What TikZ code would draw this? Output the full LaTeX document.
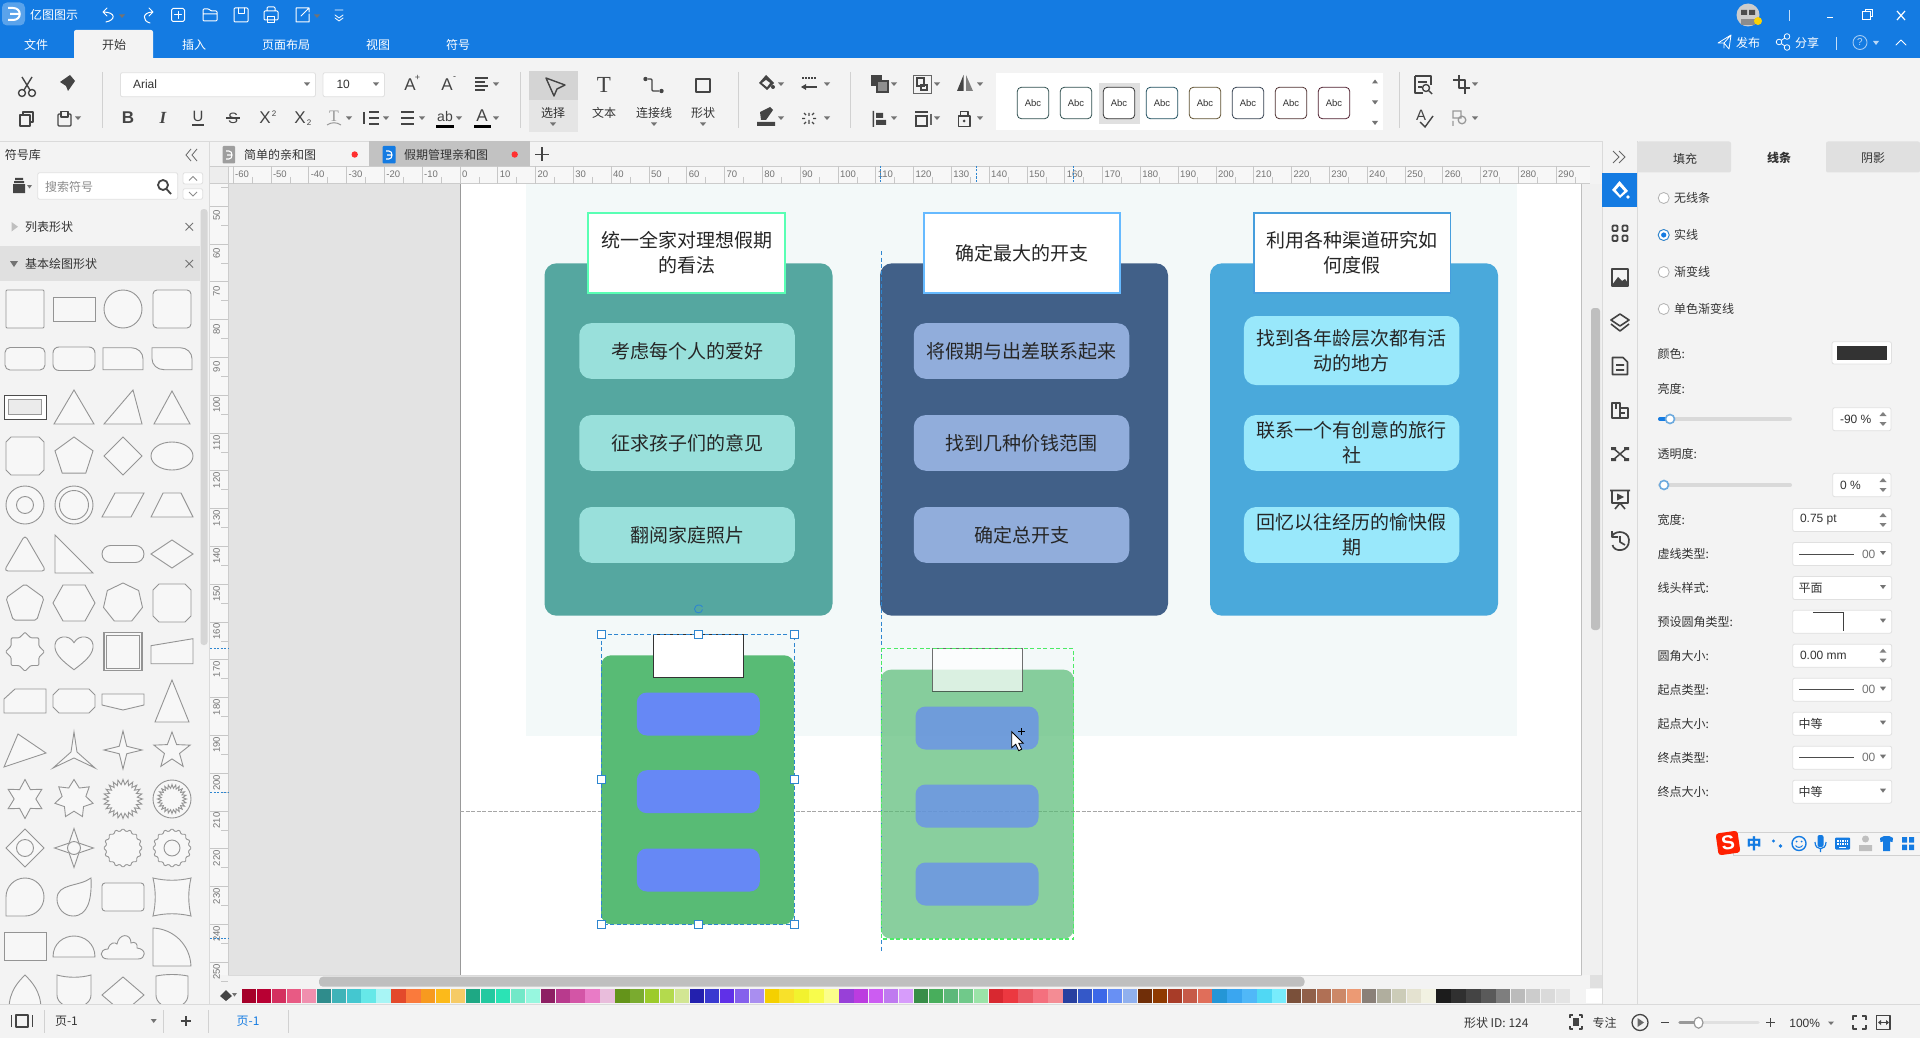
\documentclass[tikz,border=0pt]{standalone}
\usepackage{fontspec}
\usetikzlibrary{shapes.geometric}
\setmainfont{Noto Sans CJK SC}
\newfontfamily\latnfont{Liberation Sans}
\newfontfamily\serffont{Liberation Serif}
\definecolor{uiblue}{HTML}{147BE2}
\definecolor{panelgrey}{HTML}{F3F3F3}
\definecolor{uiline}{HTML}{DADADA}
\definecolor{uidark}{HTML}{444444}
\definecolor{uitext}{HTML}{333333}
\definecolor{pagetint}{HTML}{F3F9F9}
\definecolor{selblue}{HTML}{2E86D0}
\definecolor{ghostgreen}{HTML}{4CEB66}
\definecolor{cardteal}{HTML}{55A7A0}
\definecolor{itemteal}{HTML}{99E0DB}
\definecolor{cardnavy}{HTML}{416088}
\definecolor{itemnavy}{HTML}{91ADDB}
\definecolor{cardsky}{HTML}{4AA9DB}
\definecolor{itemsky}{HTML}{99E8FB}
\definecolor{cardgreen}{HTML}{58BB75}
\definecolor{itemblue}{HTML}{6688F5}
\tikzset{
  uilabel/.style={font=\fontsize{12}{14}\selectfont,text=uitext,inner sep=0pt,outer sep=0pt},
  latnlabel/.style={font=\latnfont\fontsize{12}{14}\selectfont,text=uitext,inner sep=0pt,outer sep=0pt},
  rulerlabel/.style={font=\latnfont\fontsize{9.5}{11}\selectfont,text=black!55,inner sep=0pt,outer sep=0pt},
  toollabel/.style={font=\latnfont\fontsize{17}{19}\selectfont,text=uidark,inner sep=0pt,outer sep=0pt},
  wicon/.style={draw=white,line width=1pt,line cap=round,line join=round},
  dicon/.style={draw=uidark,line width=1.4pt,line join=round},
  dropmark/.style={fill=black!55},
  sym/.style={draw=black!42,fill=white!97!black,line width=.9pt,inner sep=0pt,outer sep=0pt},
  fieldbox/.style={draw=black!12,fill=white,rounded corners=2pt,line width=.8pt},
  card/.style={rounded corners=12pt,inner sep=0pt,outer sep=0pt,minimum height=352.4pt,minimum width=288pt},
  headbox/.style={fill=white,line width=1.6pt,inner sep=0pt,outer sep=0pt,minimum height=79.7pt,minimum width=196.5pt,align=center,font=\fontsize{19}{25}\selectfont,text=black!85},
  itembox/.style={rounded corners=12pt,inner sep=0pt,outer sep=0pt,minimum height=55.7pt,minimum width=215.5pt,align=center,font=\fontsize{19}{25}\selectfont,text=black!85},
  minicard/.style={fill=cardgreen,rounded corners=10pt,inner sep=0pt,outer sep=0pt,minimum width=193pt,minimum height=269pt},
  minihead/.style={fill=white,draw=black!80,line width=.9pt,inner sep=0pt,outer sep=0pt,minimum width=90.4pt,minimum height=43pt},
  miniitem/.style={fill=itemblue,rounded corners=10pt,inner sep=0pt,outer sep=0pt,minimum width=123pt,minimum height=43pt},
  handlebox/.style={draw=selblue,fill=white,line width=.9pt,inner sep=0pt,outer sep=0pt,minimum size=8pt},
}
\begin{document}
\begin{tikzpicture}[x=1pt,y=-1pt]
\useasboundingbox (0,0) rectangle (1920,1038);
\fill[panelgrey] (0,0) rectangle (1920,1038);
% title bar
\fill[uiblue] (0,0) rectangle (1920,58);
\fill[panelgrey,rounded corners=2pt] (74,30) rectangle (153,60);
\node[fill=uiblue!70!white,rounded corners=5pt,minimum size=23pt,inner sep=0pt] (logo) at (13.5,14) {};
\draw[white,line width=2pt] (8,8) -- (13,8) .. controls (22,8) and (22,20) .. (13,20) -- (8,20) (10,14) -- (19,14);
\node[uilabel,text=white,anchor=west] (appname) at (30,14.5) {亿图图示};
\draw[wicon] (106,22) .. controls (116,20) and (116,12) .. (103,12) (107,8) -- (103,12) -- (107,16);
\draw[wicon] (150,23) .. controls (142,21) and (142,12) .. (153,12) (149,8) -- (153,12) -- (149,16);
\draw[wicon,rounded corners=1.5pt] (171.5,8.5) rectangle (184.5,21.5);
\draw[wicon] (178,11.5) -- (178,18.5) (174.5,15) -- (181.5,15);
\draw[wicon,rounded corners=1pt] (203,21) -- (203,9) -- (209,9) -- (211,11) -- (217,11) -- (217,21) -- cycle (203,14) -- (217,14);
\draw[wicon,rounded corners=1pt] (234,8) rectangle (248,22);
\draw[wicon] (238,8) -- (238,14) -- (244,14) -- (244,8);
\draw[wicon,rounded corners=1pt] (264,11) rectangle (278,20) (267,11) -- (267,7) -- (275,7) -- (275,11);
\draw[wicon] (267.5,16.5) rectangle (274.5,23);
\draw[wicon] (305,8) -- (296,8) -- (296,22) -- (309,22) -- (309,14) (301,16) -- (309,8) (305,8) -- (309,8) -- (309,12);
\draw[wicon,line width=.8pt] (335,10) -- (343,10) (335,15) -- (339,18) -- (343,15) (335,18) -- (339,21) -- (343,18);
\foreach \tabname/\tabx [count=\i] in {文件/36,插入/194,页面布局/286,视图/378,符号/458}
  \node[uilabel,text=white] (menu\i) at (\tabx,44.7) {\tabname};
\node[uilabel] (menuhome) at (114,44.7) {开始};
% top right of the title bar
\fill[black!20] (1748,15) circle (11.5);
\fill[black!70] (1741,10) rectangle (1747,15) (1749,10) rectangle (1755,15);
\fill[black!45] (1741,19) rectangle (1755,25);
\fill[yellow!70!orange] (1758,21) circle (4);
\draw[white!75!uiblue,line width=1pt] (1789,10) -- (1789,21);
\draw[white,line width=1.4pt] (1827,17.5) -- (1833,17.5);
\draw[white,line width=1pt] (1862.5,12) rectangle (1870,20) (1865,12) -- (1865,9.5) -- (1872,9.5) -- (1872,17) -- (1870,17);
\draw[white,line width=1.2pt] (1897,11) -- (1905,20) (1905,11) -- (1897,20);
\draw[wicon,line width=.8pt] (1718,43) -- (1731,35) -- (1729,49) -- (1724,43) -- (1718,43) (1724,43) -- (1724,48) (1724,43) -- (1731,35);
\node[uilabel,text=white] (publish) at (1748,42.5) {发布};
\draw[wicon,line width=.8pt] (1779,42) -- (1787,36.5) (1779,42) -- (1787,47.5);
\draw[wicon,line width=.8pt,fill=uiblue] (1779,42) circle (2.8) (1787,36.5) circle (2.8) (1787,47.5) circle (2.8);
\node[uilabel,text=white] (shareit) at (1807,42.5) {分享};
\draw[white!75!uiblue,line width=1pt] (1836,37) -- (1836,50);
\draw[white!60!uiblue,line width=.9pt] (1860,42.5) circle (7);
\node[latnlabel,text=white!70!uiblue,font=\latnfont\fontsize{10}{12}\selectfont] (helpq) at (1860,42.5) {?};
\fill[white!70!uiblue] (1873,41) -- (1879,41) -- (1876,45) -- cycle;
\draw[wicon,line width=.9pt] (1896,45) -- (1901,40) -- (1906,45);
% ribbon
\draw[uiline,line width=1pt] (0,141.5) -- (1920,141.5);
\foreach \sepx in {102,520,738,850,1399.6}
  \draw[black!18,line width=.8pt] (\sepx,72) -- (\sepx,128);
\draw[dicon] (22,93) circle (3.5) (32,93) circle (3.5) (24,90) -- (32,77) (30,90) -- (22,77);
\fill[uidark] (60,82) -- (70,75) -- (75,81) -- (68,91) -- (66,86) -- cycle;
\draw[dicon] (23,112) rectangle (33,122);
\draw[dicon,fill=panelgrey] (20,115) rectangle (30,126);
\draw[dicon,rounded corners=1pt] (58,114) rectangle (71,126);
\draw[dicon,fill=panelgrey] (61,111.5) rectangle (68,117);
\draw[fieldbox] (120.4,72.7) rectangle (315.5,96.7);
\node[latnlabel,anchor=west] (fontname) at (133,84.5) {Arial};
\draw[fieldbox] (323,72.7) rectangle (384.5,96.7);
\node[latnlabel,anchor=west] (fontsize) at (336.5,84.5) {10};
\node[toollabel] (growa) at (410,85) {A};
\node[toollabel,font=\latnfont\fontsize{9}{9}\selectfont] (growplus) at (417.5,78) {+};
\node[toollabel] (shrinka) at (447,85) {A};
\node[toollabel,font=\latnfont\fontsize{9}{9}\selectfont] (shrinkminus) at (454.5,78) {-};
\draw[uidark,line width=1.5pt] (475,78) -- (488,78) (475,82) -- (485,82) (475,86) -- (488,86) (475,90) -- (485,90);
\node[toollabel,font=\latnfont\bfseries\fontsize{17}{19}\selectfont] (boldb) at (128,118) {B};
\node[toollabel,font=\serffont\itshape\bfseries\fontsize{17}{19}\selectfont] (itali) at (163,118) {I};
\node[toollabel,font=\latnfont\fontsize{15}{17}\selectfont] (underu) at (198,116.5) {U};
\draw[uidark,line width=1.1pt] (192,125) -- (204,125);
\node[toollabel,font=\latnfont\fontsize{15}{17}\selectfont] (strikes) at (233,118) {S};
\draw[uidark,line width=1.1pt] (226,118) -- (240,118);
\node[toollabel] (supx) at (265,118) {X};
\node[toollabel,font=\latnfont\fontsize{8}{9}\selectfont] (supt) at (274,114) {2};
\node[toollabel] (subx) at (300,118) {X};
\node[toollabel,font=\latnfont\fontsize{8}{9}\selectfont] (subt) at (309,123) {2};
\node[toollabel,text=black!40,font=\serffont\fontsize{16}{18}\selectfont] (greyt) at (334,116) {T};
\draw[black!40,line width=1pt] (327,125) .. controls (331,122) and (337,122) .. (341,125);
\draw[uidark,line width=1.4pt] (369,112) -- (379,112) (369,118) -- (379,118) (369,124) -- (379,124) (364,112) -- (364,124);
\draw[uidark,line width=1.4pt] (401,112) -- (414,112) (401,118) -- (414,118) (401,124) -- (414,124);
\node[toollabel,font=\latnfont\fontsize{14}{16}\selectfont] (abtext) at (445,116) {ab};
\fill[black] (436,125) rectangle (454,128);
\node[toollabel] (colora) at (482,116) {A};
\fill[black] (473.5,125) rectangle (491,128);
\fill[black!10] (529,71) rectangle (578,132);
\fill[black!17] (529,71) rectangle (578,100);
\draw[dicon] (546,78) -- (565,85) -- (557,89) -- (554,96) -- cycle;
\node[uilabel] (selecttxt) at (553,113) {选择};
\node[toollabel,font=\serffont\fontsize{23}{25}\selectfont] (texticon) at (604,85) {T};
\node[uilabel] (texttxt) at (604,113) {文本};
\draw[dicon,rounded corners=1pt] (648,79) -- (652,79) -- (652,91) -- (659,91);
\fill[uidark] (645.5,79) circle (2.2) (661.5,91) circle (2.2);
\node[uilabel] (linktxt) at (654,113) {连接线};
\draw[dicon,line width=2pt] (696,79) rectangle (710,92);
\node[uilabel] (shapetxt) at (703,113) {形状};
\fill[uidark] (766,75) -- (774,83) -- (767,90) -- (759,83) -- cycle;
\fill[panelgrey] (766,80) -- (770,83) -- (767,87) -- (762,83) -- cycle;
\fill[uidark] (773,87) circle (2);
\fill[uidark] (760,112) -- (770,107) -- (773,110) -- (766,120) -- (761,120) -- cycle (757,122) rectangle (775,126);
\draw[uidark,line width=1.4pt,dash pattern=on 2pt off 1pt] (802,78) -- (816,78);
\draw[uidark,line width=1.6pt] (802,87) -- (817,87);
\fill[uidark] (801,87) -- (806,84) -- (806,90) -- cycle;
\draw[uidark,line width=1.2pt] (809,113) -- (809,116) (809,120) -- (809,124) (802,118.5) -- (805,118.5) (813,118.5) -- (816,118.5) (804,113) -- (806,115) (814,113) -- (812,115) (804,124) -- (806,122) (814,124) -- (812,122);
\fill[uidark] (871,75) rectangle (882,86);
\draw[uidark,line width=1.2pt,fill=uidark!60] (877,81) rectangle (888,92);
\draw[black!60,line width=.9pt] (913,75) rectangle (931,93);
\draw[uidark,line width=1.4pt] (917,78) rectangle (924,86) (921,85) rectangle (927,90);
\fill[uidark] (957,91) -- (963.5,75) -- (963.5,91) -- cycle;
\fill[black!50] (966,75) -- (973,91) -- (966,91) -- cycle;
\fill[uidark] (872.5,111) rectangle (874,127) (876,113) rectangle (883,118) (876,120) rectangle (886,125);
\draw[uidark,line width=1.5pt] (915,112) -- (928,112) (916,116) rectangle (927,126);
\draw[black!60,line width=1.2pt] (931,114) -- (931,125);
\draw[dicon,line width=1.6pt] (958.5,116) rectangle (970,126.5) (960.5,116) -- (960.5,111.5) -- (968,111.5) -- (968,116);
\fill[uidark] (964,121) circle (1.5);
% style gallery
\fill[white] (996,73.3) rectangle (1383,130);
\fill[black!12] (1099,82.7) rectangle (1140,124);
\foreach \galx/\galcol [count=\i] in {1033/2F4F4F,1076/2F4F4F,1119/333333,1162/1F4F5F,1205/5F5030,1248/333F4F,1291/4F3030,1334/4F1F2F} {
  \definecolor{galline}{HTML}{\galcol}
  \node[draw=galline,fill=white,rounded corners=4pt,minimum size=31.4pt,inner sep=0pt,line width=.8pt,latnlabel,font=\latnfont\fontsize{9.5}{11}\selectfont] (gal\i) at (\galx,103) {Abc};
}
\fill[black!55] (1372,83.5) -- (1378,83.5) -- (1375,79.5) -- cycle (1372,100.5) -- (1378,100.5) -- (1375,104.5) -- cycle (1372,121) -- (1378,121) -- (1375,125) -- cycle;
\draw[dicon] (1415,76) -- (1415,93) -- (1423,93) (1415,76) -- (1431,76) -- (1431,85) (1418,82) -- (1427,82) (1418,87) -- (1422,87);
\draw[dicon] (1426,88) circle (3.5) (1429,91) -- (1432,94);
\draw[dicon] (1459,75) -- (1459,88) -- (1470,88) (1453,80) -- (1465,80) -- (1465,94);
\node[toollabel,font=\latnfont\fontsize{15}{17}\selectfont] (spella) at (1421,115) {A};
\draw[uidark,line width=1.4pt] (1420,122) -- (1425,127) -- (1433,116);
\draw[black!40,line width=1.3pt] (1453,111) rectangle (1461,118) (1462,120) circle (3.8) (1453,121) -- (1453,126);
\foreach \px/\py in {122/16,317/16,307/84,376/84,496/84,781/84,827/84,894/84,937/84,980/84,1475/84,78/118,349/118,386/118,422/118,459/118,496/118,781/118,827/118,894/118,937/118,980/118,1475/118,553/124,654/124,703/124}
  \fill[dropmark] (\px-3,\py-1.5) -- (\px+3,\py-1.5) -- (\px,\py+2) -- cycle;
% symbol panel
\draw[uiline] (209.5,141.5) -- (209.5,1004);
\node[uilabel,anchor=west] (libtitle) at (5,155) {符号库};
\draw[black!60,line width=.8pt] (191,149) -- (186,155) -- (191,161) (197,149) -- (192,155) -- (197,161);
\fill[uidark] (13,184) rectangle (25,193) (14,181) rectangle (24,183) (15,178) rectangle (23,180);
\fill[dropmark] (27,185) -- (32,185) -- (29.5,188.5) -- cycle;
\draw[fieldbox] (37.7,172.7) rectangle (177.7,199.3);
\node[uilabel,text=black!45,anchor=west] (searchtxt) at (45,187) {搜索符号};
\draw[uidark,line width=1.8pt] (163,185) circle (5) (166.5,189) -- (171,194);
\draw[fieldbox] (183,172.7) rectangle (202.7,184) (183,188.7) rectangle (202.7,199.3);
\draw[black!45,line width=.8pt] (189,180.5) -- (193,176.5) -- (197,180.5) (189,192) -- (193,196) -- (197,192);
\fill[black!25] (11.5,222) -- (18,226.7) -- (11.5,231.5) -- cycle;
\node[uilabel,anchor=west] (listlib) at (25,226.7) {列表形状};
\fill[black!12] (0,246) rectangle (200,280.7);
\fill[black!55] (10,261) -- (18,261) -- (14,267) -- cycle;
\node[uilabel,anchor=west] (baselib) at (25,264) {基本绘图形状};
\draw[black!55,line width=.8pt] (185.5,223) -- (193,230.5) (193,223) -- (185.5,230.5) (185.5,260) -- (193,267.5) (193,260) -- (185.5,267.5);
\fill[black!16,rounded corners=3pt] (200.5,209) rectangle (207.5,645);
% row 1
\draw[sym,rounded corners=1pt] (6,290) rectangle (44,328);
\draw[sym] (53,297) rectangle (95,321);
\draw[sym] (123,309) circle (19);
\draw[sym,rounded corners=4pt] (153,290) rectangle (191,328);
% row 2
\draw[sym,rounded corners=5pt] (5,347.5) rectangle (45,370);
\draw[sym,rounded corners=6pt] (53,347) rectangle (95,370.5);
\draw[sym,shift={(123,358.7)}] (-20,-11) -- (8,-11) .. controls (15,-11) and (20,-6) .. (20,0) -- (20,11) -- (-20,11) -- cycle;
\draw[sym,shift={(172,358.7)}] (-20,-11) -- (8,-11) .. controls (15,-11) and (20,-6) .. (20,0) -- (20,11) -- (-8,11) .. controls (-15,11) and (-20,6) .. (-20,0) -- cycle;
% row 3
\draw[black!70,fill=white,line width=.9pt] (4,395) rectangle (46,419);
\draw[black!40,fill=white!92!black,line width=1.5pt] (8.5,399.5) rectangle (41.5,414.5);
\draw[sym,shift={(74,407)}] (0,-17) -- (20,17) -- (-20,17) -- cycle;
\draw[sym,shift={(123,407)}] (-19,17) -- (10,-17) -- (19,17) -- cycle;
\draw[sym,shift={(172,407)}] (0,-16) -- (18,17) -- (-18,17) -- cycle;
% row 4
\draw[sym,shift={(25,456)}] (-14,-19) -- (14,-19) -- (19,-14) -- (19,14) -- (14,19) -- (-14,19) -- (-19,14) -- (-19,-14) -- cycle;
\node[sym,regular polygon,regular polygon sides=5,minimum size=40pt] (sympenta) at (74,457) {};
\draw[sym,shift={(123,456)}] (0,-19) -- (19,0) -- (0,19) -- (-19,0) -- cycle;
\draw[sym] (172,456) ellipse (21 and 14);
% row 5
\draw[sym] (25,505) circle (19) (25,505) circle (8.5);
\draw[sym] (74,505) circle (19) (74,505) circle (14.5);
\draw[sym,shift={(123,505)}] (-21,12) -- (-8,-12) -- (21,-12) -- (8,12) -- cycle;
\draw[sym,shift={(172,505)}] (-21,12) -- (-9,-12) -- (9,-12) -- (21,12) -- cycle;
% row 6
\draw[sym,rounded corners=4pt,shift={(25,554)}] (0,-19) -- (21,17) -- (-21,17) -- cycle;
\draw[sym,shift={(74,554)}] (-19,-19) -- (19,19) -- (-19,19) -- cycle;
\draw[sym,rounded corners=8.5pt] (102,545.5) rectangle (144,562.5);
\draw[sym,shift={(172,554)}] (-21,0) -- (0,-14) -- (21,0) -- (0,14) -- cycle;
% row 7
\node[sym,regular polygon,regular polygon sides=5,minimum size=40pt,rounded corners=2pt] (sympentb) at (25,604) {};
\draw[sym,shift={(74,603)}] (-21,0) -- (-11,-18) -- (11,-18) -- (21,0) -- (11,18) -- (-11,18) -- cycle;
\node[sym,regular polygon,regular polygon sides=7,minimum size=40pt] (symhepta) at (123,603) {};
\draw[sym,shift={(172,603)}] (-13,-19) -- (13,-19) -- (19,-13) -- (19,13) -- (13,19) -- (-13,19) -- (-19,13) -- (-19,-13) -- cycle;
% row 8
\node[sym,star,star points=8,star point ratio=1.3,minimum size=39pt,rounded corners=1pt] (symstareight) at (25,651.7) {};
\draw[sym,shift={(74,651.7)}] (0,18) .. controls (-12,9) and (-20,2) .. (-19,-7) .. controls (-18,-16) and (-5,-18) .. (0,-9) .. controls (5,-18) and (18,-16) .. (19,-7) .. controls (20,2) and (12,9) .. (0,18) -- cycle;
\draw[sym,line width=1.5pt] (104,632.7) rectangle (142,670.7);
\draw[sym] (106.5,635.2) rectangle (139.5,668.2);
\draw[sym,shift={(172,651.7)}] (-21,-6) -- (21,-13) -- (21,12) -- (-21,12) -- cycle;
% row 9
\draw[sym,shift={(25,701)}] (-21,-2) -- (-10,-12) -- (21,-12) -- (21,12) -- (-21,12) -- cycle;
\draw[sym,shift={(74,701)}] (-15,-12) -- (15,-12) -- (21,-6) -- (21,6) -- (15,12) -- (-15,12) -- (-21,6) -- (-21,-6) -- cycle;
\draw[sym,shift={(123,701)}] (-21,-7) -- (21,-7) -- (21,4) -- (0,9) -- (-21,4) -- cycle;
\draw[sym,shift={(172,701)}] (0,-21) -- (17,21) -- (-17,21) -- cycle;
% row 10
\draw[sym,shift={(25,750)}] (-21,17) -- (-7,-16) -- (21,3) -- cycle;
\draw[sym,shift={(74,750)}] (0,-18) -- (3,2) -- (21,18) -- (0,8) -- (-21,18) -- (-3,2) -- cycle;
\node[sym,star,star points=4,star point ratio=3.6,minimum size=38pt] (symstarfour) at (123,750) {};
\node[sym,star,star points=5,star point ratio=2.4,minimum size=38pt] (symstarfive) at (172,751) {};
% row 11
\node[sym,star,star points=6,star point ratio=1.8,minimum size=39pt] (symstarsix) at (25,799) {};
\node[sym,star,star points=7,star point ratio=1.6,minimum size=39pt] (symstarseven) at (74,799) {};
\node[sym,star,star points=24,star point ratio=1.35,minimum size=39pt] (symburst) at (123,799) {};
\draw[sym] (172,799) circle (19);
\node[sym,star,star points=24,star point ratio=1.35,minimum size=29pt] (symburstb) at (172,799) {};
% row 12
\draw[sym,shift={(25,848)}] (0,-19) -- (19,0) -- (0,19) -- (-19,0) -- cycle;
\draw[sym] (25,848) circle (8.5);
\node[sym,star,star points=4,star point ratio=2.8,minimum size=39pt] (symstarring) at (74,848) {};
\draw[sym] (74,848) circle (6.5);
\node[sym,star,star points=16,star point ratio=1.18,minimum size=39pt,rounded corners=1pt] (symgear) at (123,848) {};
\node[sym,star,star points=16,star point ratio=1.18,minimum size=39pt,rounded corners=1pt] (symgearb) at (172,848) {};
\draw[sym] (172,848) circle (8);
% row 13
\draw[sym,shift={(25,897)}] (-19,19) -- (-19,0) .. controls (-19,-10.5) and (-10.5,-19) .. (0,-19) .. controls (10.5,-19) and (19,-10.5) .. (19,0) .. controls (19,10.5) and (10.5,19) .. (0,19) -- cycle;
\draw[sym,shift={(74,897)}] (17,-19) .. controls (18,2) and (14,19) .. (-1,19) .. controls (-10,19) and (-17,11) .. (-17,2) .. controls (-17,-14) and (5,-10) .. (17,-19) -- cycle;
\draw[sym,rounded corners=3pt] (102,883) rectangle (144,911);
\draw[sym,shift={(172,897)}] (-19,-19) .. controls (-6,-16) and (6,-16) .. (19,-19) .. controls (16,-6) and (16,6) .. (19,19) .. controls (6,16) and (-6,16) .. (-19,19) .. controls (-16,6) and (-16,-6) .. (-19,-19) -- cycle;
% row 14
\draw[sym] (4,932) rectangle (46,960);
\draw[sym,shift={(74,947)}] (-21,10) .. controls (-21,-4) and (-10,-11) .. (0,-11) .. controls (10,-11) and (21,-4) .. (21,10) -- cycle;
\draw[sym,shift={(123,947)}] (-15,12) .. controls (-24,12) and (-24,2) .. (-15,2) .. controls (-13,-5) and (-8,-5) .. (-6,-3) .. controls (-4,-14) and (8,-14) .. (8,-4) .. controls (12,-6) and (15,-3) .. (14,1) .. controls (24,2) and (23,12) .. (15,12) -- cycle;
\draw[sym,shift={(172,947)}] (-19,-19) .. controls (2,-18) and (18,-2) .. (19,19) -- (-19,19) -- cycle;
% row 15
\draw[sym,shift={(25,995)}] (-16,14) .. controls (-16,-4) and (-6,-14) .. (0,-20) .. controls (6,-14) and (16,-4) .. (16,14) -- cycle;
\draw[sym,shift={(74,995)}] (-17,-20) .. controls (-6,-17) and (6,-17) .. (17,-20) -- (17,0) .. controls (17,8) and (8,12) .. (0,14) .. controls (-8,12) and (-17,8) .. (-17,0) -- cycle;
\draw[sym,shift={(123,995)}] (-21,0) -- (0,-18) -- (21,0) -- (0,18) -- cycle;
\draw[sym,shift={(172,995)}] (-16,-19) .. controls (-6,-21) and (6,-21) .. (16,-19) -- (16,0) .. controls (16,8) and (8,12) .. (0,14) .. controls (-8,12) and (-16,8) .. (-16,0) -- cycle;
% document tabs
\fill[black!24] (369,141.5) rectangle (530,166);
\fill[black!38,rounded corners=1pt] (222.5,146) rectangle (235,163.5);
\fill[uiblue,rounded corners=1pt] (382.5,146) rectangle (395.5,163.5);
\draw[white,line width=1.1pt] (226,151) -- (229,151) .. controls (233,151) and (233,159) .. (229,159) -- (226,159) (227,155) -- (231,155);
\draw[white,line width=1.1pt] (386,151) -- (389,151) .. controls (393,151) and (393,159) .. (389,159) -- (386,159) (387,155) -- (391,155);
\node[uilabel,anchor=west] (doctabone) at (244,155) {简单的亲和图};
\node[uilabel,anchor=west] (doctabtwo) at (404,155) {假期管理亲和图};
\fill[red!75!pink] (354.7,154.5) circle (3.2) (514.7,154.5) circle (3.2);
\draw[uidark,line width=1.5pt] (542,147.5) -- (542,161.5) (535,154.5) -- (549,154.5);
% canvas
\fill[black!11] (228,183.5) rectangle (460,975);
\fill[white] (460,183.5) rectangle (1581,975);
\draw[black!40,line width=.8pt] (460,183.5) -- (460,975);
\draw[black!25,line width=.8pt] (1581.5,183.5) -- (1581.5,975);
\fill[pagetint] (526,183.5) rectangle (1517,736);
\draw[black!35,dash pattern=on 4pt off 1.5pt,line width=.7pt] (460,811.3) -- (1581,811.3);
% rulers
\fill[white!97!black] (209.5,166) rectangle (1590,183.5);
\fill[white!97!black] (209.5,183.5) rectangle (228,975);
\fill[black!7] (209.5,166) rectangle (227.5,183.5);
\draw[black!20,line width=.7pt] (209.5,166) -- (1590,166) (209.5,183.5) -- (1590,183.5) (228,166) -- (228,975);
\foreach \v in {-60,-50,...,290} {
  \draw[black!22,line width=.7pt] (460+\v*3.78,166) -- (460+\v*3.78,183.5) (460+\v*3.78+18.9,177) -- (460+\v*3.78+18.9,183.5);
  \node[rulerlabel,anchor=west] (rx\v) at (460+\v*3.78+2,174) {\v};
}
\foreach \v in {50,60,...,250} {
  \draw[black!22,line width=.7pt] (210,17.2+\v*3.78) -- (228,17.2+\v*3.78) (221,36.1+\v*3.78) -- (228,36.1+\v*3.78);
  \node[rulerlabel,rotate=90] (ry\v) at (216.5,26.7+\v*3.78) {\v};
}
\draw[black!22,line width=.7pt] (221,187.3) -- (228,187.3);
\draw[selblue,dash pattern=on 2pt off 1.5pt,line width=.8pt] (880.6,166) -- (880.6,183.5) (976.7,166) -- (976.7,183.5) (1073.5,166) -- (1073.5,183.5) (210,648.3) -- (228,648.3) (210,792.7) -- (228,792.7) (210,938.3) -- (228,938.3);
% finished cards
\node[card,fill=cardteal] (cardone) at (688.5,439.5) {};
\node[card,fill=cardnavy] (cardtwo) at (1024,439.5) {};
\node[card,fill=cardsky] (cardthree) at (1354,439.5) {};
\node[headbox,draw=green!45!cyan!65!white] (headone) at (686.5,253) {统一全家对理想假期\\的看法};
\node[headbox,draw=blue!45!cyan!60!white] (headtwo) at (1022,253) {确定最大的开支};
\node[headbox,draw=cyan!70!blue!75!white] (headthree) at (1352.3,253) {利用各种渠道研究如\\何度假};
\node[itembox,fill=itemteal] (itema) at (687,351) {考虑每个人的爱好};
\node[itembox,fill=itemteal] (itemb) at (687,442.9) {征求孩子们的意见};
\node[itembox,fill=itemteal] (itemc) at (687,534.9) {翻阅家庭照片};
\node[itembox,fill=itemnavy] (itemd) at (1021.5,351) {将假期与出差联系起来};
\node[itembox,fill=itemnavy] (iteme) at (1021.5,442.9) {找到几种价钱范围};
\node[itembox,fill=itemnavy] (itemf) at (1021.5,534.9) {确定总开支};
\node[itembox,fill=itemsky,minimum height=69pt] (itemg) at (1351.7,350.5) {找到各年龄层次都有活\\动的地方};
\node[itembox,fill=itemsky] (itemh) at (1351.7,442.9) {联系一个有创意的旅行\\社};
\node[itembox,fill=itemsky] (itemi) at (1351.7,534.9) {回忆以往经历的愉快假\\期};
\draw[selblue,line width=.9pt] (702.5,607) .. controls (701,604) and (695,604) .. (694.5,609) .. controls (694.5,614) and (702,614) .. (702.5,609.5);
% group being copied
\node[minicard] (miniA) at (697.7,789.8) {};
\node[minihead] (miniheadA) at (698.5,655.8) {};
\node[miniitem] (miniitemA) at (698.3,714) {};
\node[miniitem] (miniitemB) at (698.3,791.7) {};
\node[miniitem] (miniitemC) at (698.3,870) {};
\node[minicard,fill opacity=.7] (ghostA) at (977.3,804.2) {};
\node[minihead,fill opacity=.7,draw opacity=.7] (ghosthead) at (977.5,669.8) {};
\node[miniitem,fill opacity=.7] (ghostitemA) at (977,728) {};
\node[miniitem,fill opacity=.7] (ghostitemB) at (977,806) {};
\node[miniitem,fill opacity=.7] (ghostitemC) at (977,884) {};
\draw[selblue,dash pattern=on 4pt off 2.5pt,line width=.8pt] (601.3,634.3) rectangle (794.3,924.3);
\draw[selblue,dash pattern=on 4pt off 2.5pt,line width=.8pt] (881.3,251) -- (881.3,951);
\draw[ghostgreen,dash pattern=on 4pt off 2.5pt,line width=1.1pt] (881.3,648.3) rectangle (1073.3,939);
\foreach \hx/\hy [count=\i] in {601.3/634.3,698.3/634.3,794.3/634.3,601.3/779.3,794.3/779.3,601.3/924.3,698.3/924.3,794.3/924.3}
  \node[handlebox] (hnd\i) at (\hx,\hy) {};
\draw[black,fill=white,line width=.8pt,shift={(1011.7,731.7)}] (0,0) -- (0,16) -- (4,12.5) -- (7,19) -- (10,17.5) -- (7,11.5) -- (11.5,11.5) -- cycle;
\draw[black,line width=.9pt] (1021.7,728.2) -- (1021.7,735.2) (1018.2,731.7) -- (1025.2,731.7);
% scroll bars and colour strip
\fill[panelgrey] (228,975.5) rectangle (1602,1004);
\draw[uiline,line width=.8pt] (228,975.5) -- (1582,975.5);
\fill[black!25,rounded corners=4pt] (319,976.7) rectangle (1304.5,986.7);
\fill[black!6] (1582,183.5) rectangle (1602,975);
\fill[black!25,rounded corners=3pt] (1591,308) rectangle (1600,630);
\fill[black!12] (1590,975) rectangle (1602,988);
\fill[white] (1586,988.7) rectangle (1602,1002.7);
\fill[uidark] (226,990) -- (232,996) -- (226,1001) -- (220,996) -- cycle;
\fill[dropmark] (232,993) -- (237,993) -- (234.5,996.5) -- cycle;
\foreach \swcol [count=\i from 0] in {A60029,B80033,D4305F,E85A84,F08FAE,2F8C8C,3FB3B8,44C7D0,66E8E8,A8F5F5,E3492B,FA7A3C,F79A1F,FCBA1A,F6CB66,1EA884,23C9A0,2BE3B5,72E8C8,97F7DF,8E1F63,B83A8D,D355A6,E97BC6,E9BDDC,64941A,7AAB2F,9CCB2B,B4DA4D,D2E693,2320AE,3A3AD0,6030E8,8560EC,A98EF0,F5D000,F8E12A,F2F22E,F8FC4C,FBFE8A,9840D8,BC3CE0,CC5CF2,BF7AF0,D79CFB,388E48,48AE5C,5DB87A,70C98A,9BE3A8,D82830,EC3840,EA5964,F4707E,F48C94,2840A0,3458C8,3C68E8,6890F4,90B0EE,702E08,8F3A00,A83C28,C65A48,E06E5A,2496D6,3AA6F0,50B8F8,50D8F4,78ECFC,7A503A,90604A,B07055,CC8868,EC9A74,8A8078,B0AE9E,CCCCB8,E4E2D0,F2F2E2,1C1C1C,303030,444444,5A5A5A,7E7E7E,BBBBBB,CCCCCC,DADADA,E4E4E4} {
  \definecolor{swatchcol}{HTML}{\swcol}
  \fill[swatchcol] (242+\i*14.93,988.7) rectangle (242+\i*14.93+14.3,1002.7);
}
% format panel
\fill[panelgrey] (1602,141.5) rectangle (1920,1004);
\draw[uiline,line width=.8pt] (1602.4,141.5) -- (1602.4,1004) (1637.7,141.5) -- (1637.7,1004);
\fill[black!12,rounded corners=2pt] (1637,141.5) rectangle (1731,172.5);
\fill[black!12,rounded corners=2pt] (1826,141.5) rectangle (1920,172.5);
\fill[uiblue] (1602.4,173) rectangle (1637,206.7);
\draw[black!60,line width=.8pt] (1613,151) -- (1619,157) -- (1613,163) (1619,151) -- (1625,157) -- (1619,163);
\node[uilabel] (tabfill) at (1685,158.5) {填充};
\node[uilabel,font=\bfseries\fontsize{12}{14}\selectfont] (tabline) at (1779,158) {线条};
\node[uilabel] (tabshadow) at (1873,158) {阴影};
\fill[white] (1619.5,181) -- (1628,191) -- (1620,198) -- (1612,190) -- cycle;
\fill[uiblue] (1619.5,186) -- (1624,191) -- (1620,195) -- (1616,190) -- cycle;
\fill[white] (1628,197) circle (1.8);
\draw[dicon,line width=1.8pt,rounded corners=1pt] (1612.5,225.5) rectangle (1617.5,231) (1622.5,225.5) rectangle (1627.5,231) (1612.5,235.5) rectangle (1617.5,241) (1622.5,235.5) rectangle (1627.5,241);
\draw[dicon,line width=1.8pt] (1612,269) rectangle (1628,286);
\fill[uidark] (1612,285) -- (1618,277) -- (1622,281) -- (1625,279) -- (1628,283) -- (1628,286) -- (1612,286) -- cycle;
\draw[dicon,line width=1.6pt] (1620,314) -- (1629,320) -- (1620,326) -- (1611,320) -- cycle (1611,324) -- (1620,331) -- (1629,324);
\draw[dicon,line width=1.6pt] (1612.5,357.5) -- (1623,357.5) -- (1627.5,362) -- (1627.5,374.5) -- (1612.5,374.5) -- cycle (1616,365) -- (1624,365) (1616,370) -- (1624,370);
\draw[dicon,line width=1.8pt] (1612,403) rectangle (1620,418) (1620,408) rectangle (1628,418) (1616,403) -- (1616,409) (1620,413) -- (1625,413);
\draw[dicon,line width=1.5pt] (1613,448) -- (1627,460) (1627,448) -- (1613,460);
\fill[uidark] (1611,447) rectangle (1616,450) (1624,447) rectangle (1629,450) (1611,458) rectangle (1616,461) (1624,458) rectangle (1629,461);
\draw[dicon,line width=1.6pt] (1610,490.5) -- (1630,490.5) (1612,490.5) -- (1612,503) -- (1628,503) -- (1628,490.5) (1615,509) -- (1620,503) -- (1625,509);
\fill[uidark] (1617,493.5) -- (1624,497) -- (1617,500.5) -- cycle;
\draw[dicon,line width=1.7pt] (1612,536) .. controls (1616,529) and (1632,531) .. (1628.5,544) .. controls (1626,552) and (1614,552) .. (1612.5,545) (1620,536) -- (1620,542) -- (1625,545) (1612,531) -- (1612,537) -- (1618,537);
\foreach \radtxt/\rady [count=\i] in {无线条/198,实线/235,渐变线/272,单色渐变线/309} {
  \draw[black!30,fill=white,line width=.8pt] (1663.7,\rady) circle (5.5);
  \node[uilabel,anchor=west] (radio\i) at (1674,\rady) {\radtxt};
}
\draw[selblue,fill=white,line width=.9pt] (1663.7,235) circle (5.5);
\fill[uiblue] (1663.7,235) circle (2.6);
\node[uilabel,anchor=west] (lbcolor) at (1657.5,354) {颜色:};
\draw[fieldbox] (1832,341.7) rectangle (1891.4,364);
\fill[black!80] (1837,346) rectangle (1887,360);
\node[uilabel,anchor=west] (lbbright) at (1657.5,388.7) {亮度:};
\draw[black!15,line width=4pt,line cap=round] (1660,419) -- (1790,419);
\draw[uiblue,line width=4pt,line cap=round] (1660,419) -- (1668,419);
\draw[selblue!70!white,fill=white,line width=1.6pt] (1670,419) circle (4.5);
\draw[fieldbox] (1832.7,407.7) rectangle (1891,430.7);
\node[latnlabel,anchor=west] (valbright) at (1840,419.5) {-90 \%};
\node[uilabel,anchor=west] (lbalpha) at (1657.5,454) {透明度:};
\draw[black!15,line width=4pt,line cap=round] (1660,485) -- (1790,485);
\draw[selblue!70!white,fill=white,line width=1.6pt] (1664,485) circle (4.5);
\draw[fieldbox] (1832.7,473.3) rectangle (1891,496.7);
\node[latnlabel,anchor=west] (valalpha) at (1840,485.5) {0 \%};
\foreach \fldtxt/\fldy [count=\i] in {宽度:/520,虚线类型:/554,线头样式:/588,预设圆角类型:/621.7,圆角大小:/655.7,起点类型:/689.7,起点大小:/723.7,终点类型:/757.7,终点大小:/791.7} {
  \node[uilabel,anchor=west] (lb\i) at (1657.5,\fldy) {\fldtxt};
  \draw[fieldbox] (1792.7,\fldy-11.5) rectangle (1891.7,\fldy+11.5);
}
\node[latnlabel,anchor=west] (valwidth) at (1800,520) {0.75 pt};
\node[latnlabel,anchor=west] (valradius) at (1800,655.7) {0.00 mm};
\node[uilabel,anchor=west] (valcap) at (1798.5,588) {平面};
\node[uilabel,anchor=west] (valbegin) at (1798.5,723.7) {中等};
\node[uilabel,anchor=west] (valend) at (1798.5,791.7) {中等};
\foreach \lnkey/\lny in {a/554,b/689.7,c/757.7} {
  \draw[black!70,line width=.7pt] (1799,\lny) -- (1854,\lny);
  \node[latnlabel,text=black!55,anchor=west] (val\lnkey) at (1862,\lny) {00};
}
\draw[black!75,line width=.8pt] (1813,612) -- (1843.5,612) -- (1843.5,630.5);
\foreach \py in {419,485,520,655.7} {
  \fill[black!50] (1879.5,\py-3) -- (1886.5,\py-3) -- (1883,\py-7) -- cycle (1879.5,\py+3) -- (1886.5,\py+3) -- (1883,\py+7) -- cycle;
}
\foreach \py in {554,588,621.7,689.7,723.7,757.7,791.7}
  \fill[dropmark] (1880,\py-3) -- (1886,\py-3) -- (1883,\py+1) -- cycle;
% input method bar
\draw[black!18,fill=white!96!black,line width=.8pt] (1733,832.7) rectangle (1921,855);
\node[fill=red!75!orange,rotate=8,rounded corners=3pt,minimum size=22pt,inner sep=0pt,text=white,font=\latnfont\bfseries\fontsize{20}{22}\selectfont] (imelogo) at (1728,843) {S};
\node[uilabel,text=uiblue,font=\bfseries\fontsize{15}{17}\selectfont] (imezh) at (1754,843.5) {中};
\fill[uiblue] (1773.5,841) circle (1.7) (1780.5,846) circle (1.8);
\draw[uiblue,line width=1.4pt] (1799,843.5) circle (7);
\fill[uiblue] (1796.5,841.5) circle (1) (1801.5,841.5) circle (1);
\draw[uiblue,line width=1pt] (1795.5,845.5) .. controls (1797,848) and (1801,848) .. (1802.5,845.5);
\fill[uiblue,rounded corners=2pt] (1817.5,835) rectangle (1823.5,847);
\draw[uiblue,line width=1.2pt] (1815,842) .. controls (1815,851) and (1826,851) .. (1826,842) (1820.5,849) -- (1820.5,852);
\fill[uiblue,rounded corners=1pt] (1835,837.5) rectangle (1850,849.5);
\draw[white,line width=1.1pt,dash pattern=on 1.5pt off 1pt] (1837,841) -- (1848,841) (1837,844) -- (1848,844);
\draw[white,line width=1pt] (1839,847) -- (1846,847);
\fill[black!25] (1865.5,839) circle (3.5) (1859,851) rectangle (1872,845);
\fill[uiblue] (1880,838) -- (1884,836) -- (1889,836) -- (1893,838) -- (1892.5,842) -- (1890,841.5) -- (1890,851) -- (1883,851) -- (1883,841.5) -- (1880.5,842) -- cycle;
\fill[uiblue] (1902,837) rectangle (1907,842.5) (1909,837) rectangle (1914,842.5) (1902,844.5) rectangle (1907,850) (1909,844.5) rectangle (1914,850);
% status bar
\fill[panelgrey] (0,1004) rectangle (1920,1038);
\draw[uiline,line width=.8pt] (0,1004) -- (1920,1004);
\foreach \sepx in {44,163,208,288}
  \draw[black!18,line width=.8pt] (\sepx,1010) -- (\sepx,1033);
\draw[dicon,line width=1.5pt] (16,1015) rectangle (28,1027) (11.5,1015) -- (11.5,1027) (32.5,1015) -- (32.5,1027);
\node[uilabel,anchor=west] (pagename) at (55,1021.5) {页-1};
\fill[dropmark] (150.7,1019) -- (156.7,1019) -- (153.7,1023) -- cycle;
\draw[uidark,line width=1.6pt] (185.7,1016) -- (185.7,1026) (180.7,1021) -- (190.7,1021);
\node[uilabel,text=uiblue,anchor=center] (pagetab) at (248,1021.5) {页-1};
\node[uilabel,anchor=west] (shapeid) at (1464,1022.7) {形状 ID: 124};
\draw[dicon,line width=1.5pt] (1570,1018) -- (1570,1015) -- (1573,1015) (1579,1015) -- (1582,1015) -- (1582,1018) (1570,1026) -- (1570,1029) -- (1573,1029) (1579,1029) -- (1582,1029) -- (1582,1026);
\fill[uidark] (1573,1018) rectangle (1579,1026);
\node[uilabel,anchor=center] (focustxt) at (1604.5,1022.7) {专注};
\draw[dicon,line width=1.3pt] (1640,1022.5) circle (8);
\fill[uidark!80] (1637.5,1018) -- (1644,1022.5) -- (1637.5,1027) -- cycle;
\draw[uidark,line width=1.5pt] (1661,1022.7) -- (1669,1022.7) (1770.7,1018) -- (1770.7,1027) (1766,1022.5) -- (1775,1022.5);
\draw[black!12,line width=3.5pt,line cap=round] (1680,1022.7) -- (1758,1022.7);
\draw[black!40,line width=3.5pt,line cap=round] (1680,1022.7) -- (1697,1022.7);
\draw[black!40,fill=white,line width=1.2pt] (1698.5,1022.7) ellipse (4.5 and 5.5);
\node[latnlabel,anchor=center] (zoomval) at (1804.7,1023) {100\%};
\fill[dropmark] (1828,1021.5) -- (1834,1021.5) -- (1831,1025) -- cycle;
\draw[dicon,line width=1.5pt] (1853,1020) -- (1853,1016) -- (1857,1016) (1862,1016) -- (1866,1016) -- (1866,1020) (1853,1025) -- (1853,1029) -- (1857,1029) (1862,1029) -- (1866,1029) -- (1866,1025);
\draw[dicon,line width=1.3pt] (1876.5,1015.5) rectangle (1890,1029.5);
\draw[uidark,line width=1pt] (1879,1022.5) -- (1888,1022.5);
\fill[uidark] (1878,1022.5) -- (1881,1020) -- (1881,1025) -- cycle (1889,1022.5) -- (1886,1020) -- (1886,1025) -- cycle;
\end{tikzpicture}
\end{document}
